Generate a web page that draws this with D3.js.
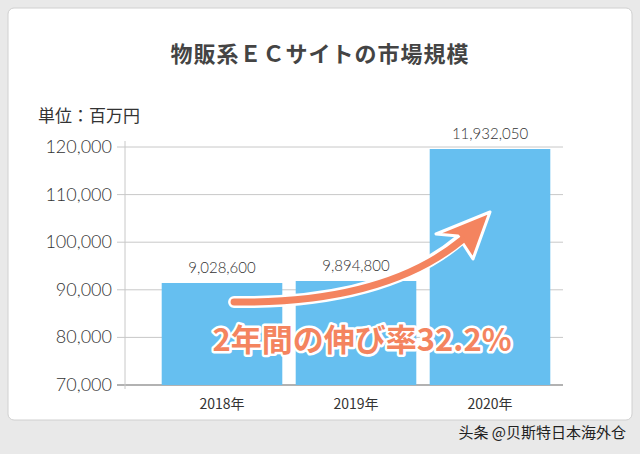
<!DOCTYPE html>
<html><head><meta charset="utf-8">
<script src="https://cdn.jsdelivr.net/npm/d3@7"></script>
<style>body{margin:0;background:#ececec;}svg{display:block;font-family:"Noto Sans CJK JP","Noto Sans",sans-serif;}</style>
</head><body>
<script>
const categories=["2018年","2019年","2020年"];
const values=[91430,91850,119580];
const valueLabels=["9,028,600","9,894,800","11,932,050"];
const ticks=[70000,80000,90000,100000,110000,120000];
const title="物販系ＥＣサイトの市場規模";
const unit="単位：百万円";
const note="2年間の伸び率32.2%";

const W=640,H=454;
const svg=d3.select("body").append("svg").attr("width",W).attr("height",H);
svg.append("rect").attr("width",W).attr("height",H).attr("fill","#e9e9e9");
svg.append("rect").attr("x",8).attr("y",8).attr("width",624).attr("height",412).attr("rx",6).attr("fill","#fff").attr("stroke","#d0d0d0");
svg.append("text").attr("x",320).attr("y",62).attr("text-anchor","middle").attr("font-size",22).attr("font-weight","bold").attr("fill","#444").attr("letter-spacing",1).text(title);
svg.append("text").attr("x",38).attr("y",122).attr("font-size",17).attr("fill","#333").text(unit);

const y=d3.scaleLinear().domain([70000,120000]).range([385,147]);
const x=d3.scaleBand().domain(categories).range([155,557]).paddingInner(0.1).paddingOuter(0.05);
const axisX=125, right=563;

svg.append("g").selectAll("line").data(ticks).join("line")
 .attr("x1",axisX-8).attr("x2",right).attr("y1",d=>y(d)).attr("y2",d=>y(d))
 .attr("stroke",d=>d===70000?"#999":"#c8c8c8").attr("stroke-width",d=>d===70000?1.5:1);
svg.append("line").attr("x1",axisX).attr("x2",axisX).attr("y1",y(120000)-6).attr("y2",y(70000)+4).attr("stroke","#c8c8c8");
svg.append("g").selectAll("text").data(ticks).join("text")
 .attr("x",axisX-13).attr("y",d=>y(d)+6).attr("text-anchor","end").attr("font-size",18).attr("font-weight",300).attr("fill","#333")
 .attr("font-family","Lato,sans-serif").text(d3.format(","));

svg.append("g").selectAll("rect").data(values).join("rect")
 .attr("x",(d,i)=>x(categories[i])).attr("width",x.bandwidth())
 .attr("y",d=>y(d)).attr("height",d=>y(70000)-y(d)).attr("fill","#66bff0");
svg.append("g").selectAll("text").data(valueLabels).join("text")
 .attr("x",(d,i)=>x(categories[i])+x.bandwidth()/2).attr("y",(d,i)=>y(values[i])-10)
 .attr("text-anchor","middle").attr("font-size",15).attr("font-weight",300).attr("fill","#333").attr("font-family","Lato,sans-serif").text(d=>d);
svg.append("g").selectAll("text").data(categories).join("text")
 .attr("x",d=>x(d)+x.bandwidth()/2).attr("y",409).attr("text-anchor","middle").attr("font-size",14).attr("fill","#333").text(d=>d);

const x0=x(categories[0])+x.bandwidth()*0.6, y0=y(values[0])+19;
const x1=x(categories[2])+x.bandwidth()*0.5, y1=y(values[2])+63;
const ah=svg.append("g");
ah.append("path").attr("d",`M${x0},${y0} Q${x0+150},${y0+2} ${x1-30},${y1+28}`).attr("fill","none").attr("stroke","#fff").attr("stroke-width",12).attr("stroke-linecap","round");
ah.append("path").attr("d",`M${x1},${y1} L${x1-54},${y1+22} L${x1-32},${y1+24} L${x1-17},${y1+47} Z`).attr("fill","#f4845f").attr("stroke","#fff").attr("stroke-width",3).attr("stroke-linejoin","round");
ah.append("path").attr("d",`M${x0},${y0} Q${x0+150},${y0+2} ${x1-28},${y1+28}`).attr("fill","none").attr("stroke","#f4845f").attr("stroke-width",7).attr("stroke-linecap","round");

svg.append("text").attr("x",362).attr("y",351).attr("text-anchor","middle").attr("font-size",31).attr("font-weight","bold")
 .attr("fill","#f4845f").attr("stroke","#fff").attr("stroke-width",5).attr("paint-order","stroke").attr("stroke-linejoin","round").text(note);

svg.append("text").attr("x",626).attr("y",438).attr("text-anchor","end").attr("font-size",15).attr("fill","#222").text("头条 @贝斯特日本海外仓");
</script>
</body></html>
